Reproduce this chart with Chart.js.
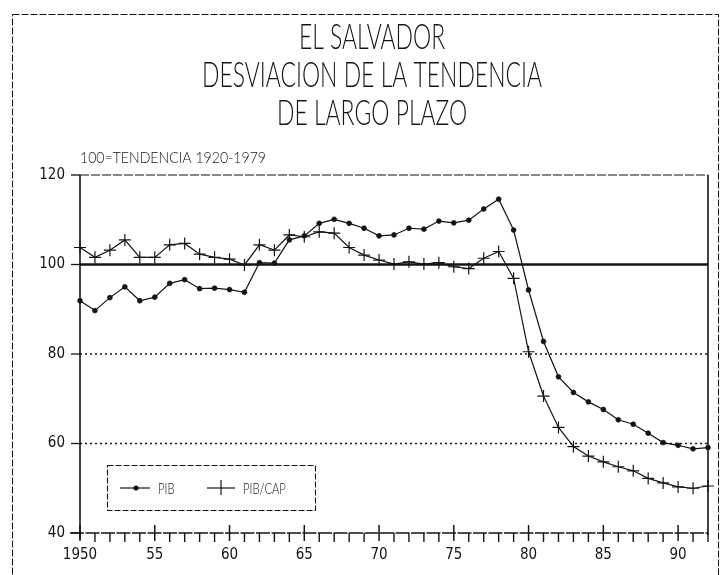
<!DOCTYPE html>
<html>
<head>
<meta charset="utf-8">
<script src="https://cdn.jsdelivr.net/npm/chart.js@4/dist/chart.umd.min.js"></script>
<style>
  body { margin: 0; background: #fff; }
  canvas { display: block; }
</style>
</head>
<body>
<canvas id="chart" width="724" height="575"></canvas>
<script>
// values (index, 100 = trend 1920-1979)
const years = [1950, 1951, 1952, 1953, 1954, 1955, 1956, 1957, 1958, 1959,
  1960, 1961, 1962, 1963, 1964, 1965, 1966, 1967, 1968, 1969,
  1970, 1971, 1972, 1973, 1974, 1975, 1976, 1977, 1978, 1979,
  1980, 1981, 1982, 1983, 1984, 1985, 1986, 1987, 1988, 1989,
  1990, 1991, 1992];
const pib = [91.9, 89.7, 92.6, 95.0, 91.9, 92.7, 95.8, 96.6, 94.6, 94.7,
  94.4, 93.8, 100.4, 100.3, 105.5, 106.4, 109.2, 110.1, 109.2, 108.1,
  106.4, 106.6, 108.1, 107.9, 109.7, 109.3, 109.9, 112.4, 114.6, 107.7,
  94.3, 82.8, 74.9, 71.4, 69.3, 67.6, 65.3, 64.3, 62.3, 60.2,
  59.6, 58.8, 59.1];
const pibCap = [103.8, 101.6, 103.2, 105.5, 101.6, 101.6, 104.4, 104.7, 102.3, 101.6,
  101.2, 99.9, 104.4, 103.2, 106.6, 106.2, 107.3, 107.0, 103.8, 102.1,
  101.0, 100.1, 100.6, 100.1, 100.4, 99.5, 99.1, 101.4, 102.9, 96.9,
  80.5, 70.6, 63.6, 59.3, 57.2, 55.9, 54.8, 53.9, 52.2, 51.2,
  50.3, 50.0, 50.5];

const xTickYears = [1950, 1955, 1960, 1965, 1970, 1975, 1980, 1985, 1990];
const xTickLabels = ['1950', '55', '60', '65', '70', '75', '80', '85', '90'];
const yTicks = [40, 60, 80, 100, 120];
const dottedLevels = [80, 60];
const trendLevel = 100;

const titleLines = ['EL SALVADOR', 'DESVIACION DE LA TENDENCIA', 'DE LARGO PLAZO'];
const subTitle = '100=TENDENCIA 1920-1979';
const seriesNames = ['PIB', 'PIB/CAP'];

const INK = '#141414';
const THIN_FONT = "300 {s}px Lato, 'Open Sans', sans-serif";
const TICK_FONT = "'DejaVu Sans Condensed', 'DejaVu Sans', sans-serif";

function thinFont(size) {
  return THIN_FONT.replace('{s}', size);
}

// narrow plotter-like lettering: squeeze text horizontally
function squeezedText(ctx, text, x, y, size, sx, align) {
  ctx.save();
  ctx.font = thinFont(size);
  ctx.textBaseline = 'alphabetic';
  ctx.textAlign = align || 'left';
  ctx.fillStyle = INK;
  ctx.translate(x, y);
  ctx.scale(sx, 1);
  ctx.fillText(text, 0, 0);
  ctx.restore();
}

function seg(ctx, x1, y1, x2, y2, w, dash) {
  ctx.save();
  ctx.strokeStyle = INK;
  ctx.lineWidth = w;
  ctx.setLineDash(dash || []);
  ctx.beginPath();
  ctx.moveTo(x1, y1);
  ctx.lineTo(x2, y2);
  ctx.stroke();
  ctx.restore();
}

const framePlugin = {
  id: 'frame',
  beforeDraw(chart) {
    const ctx = chart.ctx;
    ctx.save();
    ctx.fillStyle = '#fff';
    ctx.fillRect(0, 0, chart.width, chart.height);
    // outer dashed frame of the page
    ctx.strokeStyle = INK;
    ctx.lineWidth = 1;
    ctx.setLineDash([7, 2]);
    ctx.strokeRect(12.5, 14.5, 706, 600);
    ctx.restore();

    // title
    ctx.save();
    ctx.font = thinFont(35);
    const sx = 340 / ctx.measureText(titleLines[1]).width;
    ctx.restore();
    const cx = 372;
    squeezedText(ctx, titleLines[0], cx, 49, 35, sx, 'center');
    squeezedText(ctx, titleLines[1], cx, 87, 35, sx, 'center');
    squeezedText(ctx, titleLines[2], cx, 125, 35, sx, 'center');

    ctx.save();
    ctx.font = thinFont(16);
    const sx2 = 186 / ctx.measureText(subTitle).width;
    ctx.restore();
    squeezedText(ctx, subTitle, chart.chartArea.left, 163, 16, sx2, 'left');
  },
  beforeDatasetsDraw(chart) {
    const ctx = chart.ctx;
    const a = chart.chartArea;
    const xs = chart.scales.x;
    const ys = chart.scales.y;

    // trend line and dotted reference levels
    seg(ctx, a.left, ys.getPixelForValue(trendLevel), a.right, ys.getPixelForValue(trendLevel), 2.6);
    dottedLevels.forEach(v => {
      const py = ys.getPixelForValue(v);
      seg(ctx, a.left, py, a.right, py, 1.3, [2, 3]);
    });

    // plot frame: dashed top, solid sides and bottom
    seg(ctx, a.left, a.top, a.right, a.top, 1.2, [9, 2]);
    seg(ctx, a.right, a.top, a.right, a.bottom + 2, 1.6);
    seg(ctx, a.left, a.top, a.left, a.bottom + 6, 1.6);
    seg(ctx, a.left - 10, a.bottom, a.right, a.bottom, 1.6, [14, 1.5]);

    // y tick marks
    yTicks.forEach(v => {
      const py = ys.getPixelForValue(v);
      seg(ctx, a.left - 9, py, a.left, py, 1.3);
    });
    // x tick marks: every year below, every five years across
    for (let yr = xs.min; yr <= xs.max; yr++) {
      const px = xs.getPixelForValue(yr);
      if (xTickYears.includes(yr)) {
        seg(ctx, px, a.bottom - 8, px, a.bottom + 8, 1.5);
      } else {
        seg(ctx, px, a.bottom, px, a.bottom + 9, 1.4);
      }
    }
  },
  afterDatasetsDraw(chart) {
    const ctx = chart.ctx;
    const a = chart.chartArea;
    const left = a.left + 27;
    const top = a.bottom - 68;
    const w = 208;
    const h = 45;
    ctx.save();
    ctx.fillStyle = '#fff';
    ctx.fillRect(left, top, w, h);
    ctx.strokeStyle = INK;
    ctx.lineWidth = 1.1;
    ctx.setLineDash([6, 2]);
    ctx.strokeRect(left + 0.5, top + 0.5, w, h);
    ctx.restore();

    const my = top + 23;
    // PIB sample
    seg(ctx, left + 13, my, left + 43, my, 1.2);
    ctx.save();
    ctx.fillStyle = INK;
    ctx.beginPath();
    ctx.arc(left + 29, my, 2.5, 0, Math.PI * 2);
    ctx.fill();
    ctx.restore();
    squeezedText(ctx, seriesNames[0], left + 51, my + 6, 15, 0.75, 'left');
    // PIB/CAP sample
    seg(ctx, left + 100, my, left + 128, my, 1.2);
    seg(ctx, left + 114, my - 8, left + 114, my + 7, 1.2);
    squeezedText(ctx, seriesNames[1], left + 136, my + 6, 15, 0.75, 'left');
  }
};

const ctx = document.getElementById('chart');

new Chart(ctx, {
  type: 'line',
  data: {
    datasets: [
      {
        label: seriesNames[0],
        data: years.map((yr, i) => ({ x: yr, y: pib[i] })),
        borderColor: INK,
        backgroundColor: INK,
        borderWidth: 1.2,
        pointStyle: 'circle',
        pointRadius: 2.4,
        pointBorderWidth: 0.8,
        tension: 0,
        clip: false
      },
      {
        label: seriesNames[1],
        data: years.map((yr, i) => ({ x: yr, y: pibCap[i] })),
        borderColor: INK,
        backgroundColor: INK,
        borderWidth: 1.2,
        pointStyle: 'cross',
        pointRadius: 6,
        pointBorderWidth: 1.2,
        tension: 0,
        clip: false
      }
    ]
  },
  options: {
    responsive: false,
    animation: false,
    devicePixelRatio: 1,
    layout: { padding: { top: 175, right: 16, left: 0, bottom: 0 } },
    plugins: {
      legend: { display: false },
      title: { display: false },
      tooltip: { enabled: false }
    },
    scales: {
      x: {
        type: 'linear',
        min: 1950,
        max: 1992,
        grid: { display: false, drawTicks: false },
        border: { display: false },
        afterBuildTicks: scale => {
          scale.ticks = xTickYears.map(v => ({ value: v }));
        },
        afterFit: scale => { scale.height = 42; },
        ticks: {
          autoSkip: false,
          maxRotation: 0,
          padding: 13,
          color: INK,
          font: { family: TICK_FONT, size: 15 },
          callback: v => xTickLabels[xTickYears.indexOf(v)]
        }
      },
      y: {
        min: 40,
        max: 120,
        grid: { display: false, drawTicks: false },
        border: { display: false },
        afterBuildTicks: scale => {
          scale.ticks = yTicks.map(v => ({ value: v }));
        },
        afterFit: scale => { scale.width = 80; },
        ticks: {
          padding: 15,
          color: INK,
          font: { family: TICK_FONT, size: 15 }
        }
      }
    }
  },
  plugins: [framePlugin]
});
</script>
</body>
</html>
